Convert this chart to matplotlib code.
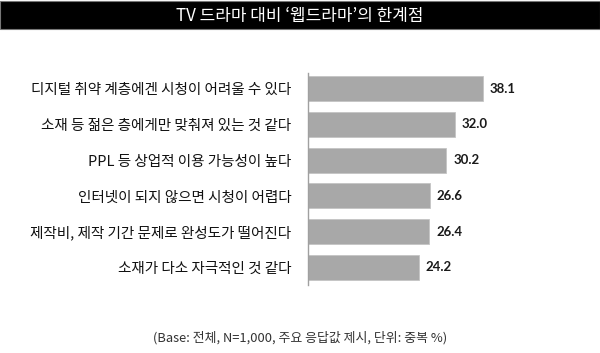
import matplotlib
matplotlib.use("Agg")
import matplotlib.pyplot as plt
from matplotlib.patches import Rectangle

plt.rcParams['font.family'] = ['Noto Sans CJK KR', 'DejaVu Sans']

title = "TV 드라마 대비 ‘웹드라마’의 한계점"
categories = [
    "디지털 취약 계층에겐 시청이 어려울 수 있다",
    "소재 등 젊은 층에게만 맞춰져 있는 것 같다",
    "PPL 등 상업적 이용 가능성이 높다",
    "인터넷이 되지 않으면 시청이 어렵다",
    "제작비, 제작 기간 문제로 완성도가 떨어진다",
    "소재가 다소 자극적인 것 같다",
]
values = [38.1, 32.0, 30.2, 26.6, 26.4, 24.2]
footnote = "(Base: 전체, N=1,000, 주요 응답값 제시, 단위: 중복 %)"

W, H = 600, 353
fig = plt.figure(figsize=(W / 100, H / 100), dpi=100)
fig.patch.set_facecolor('white')

# title bar
fig.patches.append(Rectangle((0, 1 - 28.5 / H), 1, 27.5 / H, transform=fig.transFigure,
                             facecolor='black', edgecolor='#777777', linewidth=0.8))
fig.text(0.5, 1 - 15.5 / H, title, ha='center', va='center', color='white',
         fontsize=12.2, fontweight='medium')

ax_left, ax_right = 308 / W, 1.0
ax_top, ax_bot = 1 - 73 / H, 1 - 285 / H
ax = fig.add_axes([ax_left, ax_bot, ax_right - ax_left, ax_top - ax_bot])

y = list(range(len(categories)))
ax.barh(y, values, height=0.70, color='#a8a8a8', edgecolor='#c4c4c4', linewidth=0.6)
ax.set_xlim(0, 292 / 4.585)
ax.set_ylim(5.489, -0.433)
ax.set_yticks(y)
ax.set_yticklabels(categories, fontsize=10.5, color='#111111')
ax.tick_params(axis='y', length=0, pad=12)
ax.set_xticks([])
for s in ['top', 'right', 'bottom']:
    ax.spines[s].set_visible(False)
ax.spines['left'].set_color('#a0a0a0')
ax.spines['left'].set_linewidth(1.0)
ax.set_facecolor('none')

for yi, v in zip(y, values):
    ax.annotate(f"{v:.1f}", (v, yi), xytext=(5, 0), textcoords='offset points',
                ha='left', va='center', fontsize=9.5, fontweight='bold',
                color='#1a1a1a', family=['Lato', 'DejaVu Sans'])

fig.text(0.5, 1 - 338 / H, footnote, ha='center', va='center', fontsize=9.3,
         color='#333333')

fig.savefig('out.png', dpi=100, facecolor='white')
